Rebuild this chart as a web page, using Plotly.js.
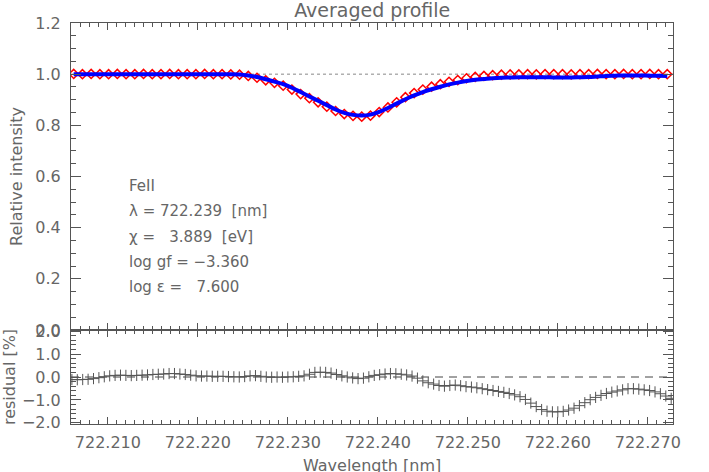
<!DOCTYPE html>
<html>
<head>
<meta charset="utf-8">
<script src="https://cdn.plot.ly/plotly-3.0.1.min.js"></script>
<style>
  html, body { margin: 0; padding: 0; background: #fff; }
  #chart { width: 709px; height: 472px; }
</style>
</head>
<body>
<div id="chart"></div>
<script>
// Observed profile (red diamonds) and fitted profile (blue line), same wavelength grid
const profileStart = 722.2062;
const profileStep = 0.00097;
const observed = [
    1.001, 1.000, 1.001, 1.000, 1.000, 1.001, 1.000, 1.000, 1.001, 1.000,
    1.000, 1.001, 1.000, 1.000, 1.000, 1.001, 1.000, 1.000, 0.999,
    0.998, 0.993, 0.986, 0.976, 0.966, 0.955, 0.940, 0.922, 0.906, 0.890,
    0.873, 0.856, 0.844, 0.837, 0.834, 0.838, 0.852, 0.870, 0.890, 0.910,
    0.926, 0.940, 0.951, 0.961, 0.970, 0.977, 0.984, 0.989, 0.993, 0.996,
    0.998, 0.999,
    0.999, 1.000, 0.999, 1.000, 1.000, 1.000, 0.999, 1.000, 1.000, 1.001,
    1.000, 1.000, 1.001, 1.000, 1.000, 1.001, 1.000, 1.000
];
const fitted = [
    1.000, 1.000, 1.000, 1.000, 1.000, 1.000, 1.000, 1.000, 1.000, 1.000,
    1.000, 1.000, 1.000, 1.000, 1.000, 1.000, 1.000, 1.000, 1.000,
    0.999, 0.995, 0.989, 0.980, 0.971, 0.961, 0.947, 0.930, 0.913, 0.896,
    0.879, 0.862, 0.849, 0.841, 0.838, 0.842, 0.853, 0.868, 0.885, 0.902,
    0.917, 0.930, 0.941, 0.951, 0.960, 0.967, 0.973, 0.978, 0.981, 0.984,
    0.986, 0.987,
    0.988, 0.988, 0.988, 0.988, 0.987, 0.987, 0.987, 0.988, 0.989, 0.991,
    0.993, 0.994, 0.995, 0.995, 0.995, 0.994, 0.994, 0.993
];

// Residual in percent, finer grid
const residualStart = 722.2060;
const residualStep = 0.0006;
const residual = [
    -0.11, -0.12, -0.11, -0.10, -0.07, -0.03, 0.01, 0.05, 0.07, 0.08,
    0.07, 0.06, 0.07, 0.08, 0.09, 0.11, 0.12, 0.13, 0.15, 0.15,
    0.13, 0.11, 0.08, 0.05, 0.04, 0.04, 0.03, 0.03, 0.03, 0.02,
    0.01, 0.00, 0.02, 0.05, 0.06, 0.03, 0.00, -0.01, 0.00, -0.01,
    0.00, 0.01, 0.03, 0.05, 0.12, 0.20, 0.21, 0.20, 0.17, 0.11,
    0.05, 0.00, -0.04, -0.07, -0.05, 0.01, 0.07, 0.10, 0.13, 0.15,
    0.14, 0.12, 0.09, 0.04, -0.05, -0.17, -0.25, -0.31, -0.37, -0.40,
    -0.37, -0.35, -0.38, -0.42, -0.44, -0.47, -0.51, -0.55, -0.59, -0.63,
    -0.67, -0.72, -0.78, -0.86, -0.98, -1.14, -1.29, -1.42, -1.49, -1.52,
    -1.52, -1.50, -1.44, -1.36, -1.25, -1.12, -0.99, -0.89, -0.80, -0.72,
    -0.66, -0.61, -0.56, -0.51, -0.51, -0.53, -0.56, -0.59, -0.65, -0.73,
    -0.83, -0.93
];

// Line parameters shown in the plot
const lineInfo = [
    'FeII',
    'λ = 722.239\u00a0 [nm]',
    'χ =\u00a0\u00a0 3.889\u00a0 [eV]',
    'log gf = −3.360',
    'log ε =\u00a0\u00a0 7.600'
];

const xRange = [722.2059, 722.2728];
const axisColor = '#555';
const textFont = { family: 'DejaVu Sans, sans-serif', size: 16, color: '#666' };

const traces = [
    {
        x0: profileStart, dx: profileStep, y: observed,
        type: 'scatter', mode: 'markers',
        marker: { symbol: 'diamond-open', size: 7, color: '#ff0000', line: { width: 1.5, color: '#ff0000' } },
        xaxis: 'x', yaxis: 'y', hoverinfo: 'skip'
    },
    {
        x0: profileStart, dx: profileStep, y: fitted,
        type: 'scatter', mode: 'lines',
        line: { color: '#0000ff', width: 4, shape: 'spline' },
        xaxis: 'x', yaxis: 'y', hoverinfo: 'skip'
    },
    {
        x0: residualStart, dx: residualStep, y: residual,
        type: 'scatter', mode: 'markers',
        marker: { symbol: 'cross-thin', size: 8, color: '#555', line: { width: 1, color: '#555' } },
        xaxis: 'x2', yaxis: 'y2', hoverinfo: 'skip'
    }
];

const commonX = {
    range: xRange,
    showgrid: false, zeroline: false,
    showline: true, linecolor: axisColor, linewidth: 1,
    mirror: 'allticks',
    ticks: 'inside', ticklen: 7, tickcolor: axisColor,
    dtick: 0.01, tick0: 722.21,
    tickformat: '.3f',
    minor: { dtick: 0.001, ticks: 'inside', ticklen: 4, tickcolor: axisColor },
    tickfont: textFont
};

// Parameter block, plus the x-axis title placed by hand below the tick labels
const annotations = lineInfo.map((t, i) => ({
    text: t,
    xref: 'paper', yref: 'paper',
    x: 0.093, y: 0.5935 - i * 0.0630,
    xanchor: 'left', yanchor: 'middle',
    showarrow: false,
    font: { family: 'DejaVu Sans, sans-serif', size: 15, color: '#666' }
}));
annotations.push({
    text: 'Wavelength [nm]',
    xref: 'paper', yref: 'paper',
    x: 0.5, y: -0.104,
    xanchor: 'center', yanchor: 'middle',
    showarrow: false,
    font: textFont
});

const layout = {
    width: 709, height: 472,
    margin: { l: 71, r: 36, t: 23, b: 48 },
    paper_bgcolor: '#fff', plot_bgcolor: '#fff',
    showlegend: false,
    font: textFont,
    title: {
        text: 'Averaged profile',
        font: { family: 'DejaVu Sans, sans-serif', size: 19, color: '#666' },
        x: 0.525, xanchor: 'center',
        yref: 'container', y: 0.978, yanchor: 'middle'
    },
    xaxis: Object.assign({}, commonX, { anchor: 'y', showticklabels: false, matches: 'x2' }),
    xaxis2: Object.assign({}, commonX, { anchor: 'y2', ticklabelstandoff: 4 }),
    yaxis: {
        domain: [0.2344, 1], range: [0, 1.2],
        showgrid: false, zeroline: false,
        showline: true, linecolor: axisColor, linewidth: 1,
        mirror: 'allticks',
        ticks: 'inside', ticklen: 10, tickcolor: axisColor,
        dtick: 0.2, tickformat: '.1f',
        minor: { dtick: 0.05, ticks: 'inside', ticklen: 5, tickcolor: axisColor },
        ticklabelstandoff: 6,
        tickfont: textFont,
        title: { text: 'Relative intensity', font: textFont, standoff: 8 }
    },
    yaxis2: {
        domain: [0, 0.2344], range: [-2.05, 2.05],
        showgrid: false, zeroline: false,
        showline: true, linecolor: axisColor, linewidth: 1,
        mirror: 'allticks',
        ticks: 'inside', ticklen: 10, tickcolor: axisColor,
        dtick: 1, tickformat: '.1f',
        minor: { dtick: 0.2, ticks: 'inside', ticklen: 5, tickcolor: axisColor },
        ticklabelstandoff: 6,
        tickfont: textFont,
        title: { text: 'residual [%]', font: textFont, standoff: 2 }
    },
    shapes: [
        { type: 'line', xref: 'x domain', yref: 'y', x0: 0, x1: 1, y0: 1, y1: 1,
          line: { color: '#888', width: 1, dash: 'dot' }, layer: 'below' },
        { type: 'line', xref: 'x2 domain', yref: 'y2', x0: 0, x1: 1, y0: 0, y1: 0,
          line: { color: '#444', width: 1, dash: '8px,6px' }, layer: 'below' }
    ],
    annotations: annotations
};

Plotly.newPlot('chart', traces, layout, { displayModeBar: false, staticPlot: true });
</script>
</body>
</html>
